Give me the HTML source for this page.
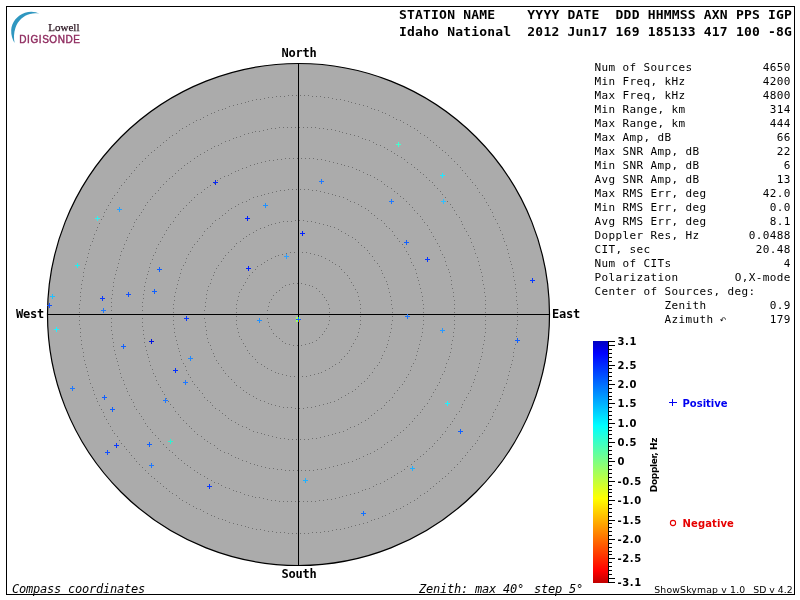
<!DOCTYPE html>
<html><head><meta charset="utf-8"><title>Skymap</title>
<style>
html,body{margin:0;padding:0;background:#fff;}
#root{position:relative;width:800px;height:600px;overflow:hidden;background:#fff;font-family:"DejaVu Sans Mono","Liberation Mono",monospace;color:#000;}
#frame{position:absolute;left:6px;top:6px;width:787px;height:587px;border:1px solid #000;}
.t{position:absolute;white-space:pre;line-height:1;}
.hd{font-weight:bold;font-size:13px;letter-spacing:0.195px;}
.st{font-size:11px;letter-spacing:0.378px;}
.sv{font-size:11px;letter-spacing:0.378px;text-align:right;width:120px;}
.cp{font-weight:bold;font-size:12px;letter-spacing:-0.224px;}
.it{font-style:italic;font-size:12px;letter-spacing:-0.224px;}
.cl{font-family:"DejaVu Sans","Liberation Sans",sans-serif;font-weight:bold;font-size:10px;}
.vs{font-family:"DejaVu Sans","Liberation Sans",sans-serif;font-size:9.3px;}
</style></head><body><div id="root">
<div id="frame"></div>

<svg width="800" height="600" viewBox="0 0 800 600" style="position:absolute;left:0;top:0">
<defs><linearGradient id="cb" x1="0" y1="0" x2="0" y2="1">
<stop offset="0.0000" stop-color="#0000c0"/>
<stop offset="0.0500" stop-color="#0000ff"/>
<stop offset="0.3500" stop-color="#00ffff"/>
<stop offset="0.5000" stop-color="#80ff80"/>
<stop offset="0.6500" stop-color="#ffff00"/>
<stop offset="0.9500" stop-color="#ff0000"/>
<stop offset="1.0000" stop-color="#c00000"/>
</linearGradient></defs>
<circle cx="298.5" cy="314.5" r="251" fill="#ababab" stroke="#000" stroke-width="1.2"/>
<path shape-rendering="crispEdges" d="M329 312h1v1h-1zM329 308h1v1h-1zM328 304h1v1h-1zM326 300h1v1h-1zM324 297h1v1h-1zM322 294h1v1h-1zM319 291h1v1h-1zM316 288h1v1h-1zM312 286h1v1h-1zM309 285h1v1h-1zM305 284h1v1h-1zM301 283h1v1h-1zM297 283h1v1h-1zM293 283h1v1h-1zM289 284h1v1h-1zM285 285h1v1h-1zM282 287h1v1h-1zM279 290h1v1h-1zM276 292h1v1h-1zM273 295h1v1h-1zM271 299h1v1h-1zM269 302h1v1h-1zM268 306h1v1h-1zM267 310h1v1h-1zM267 314h1v1h-1zM267 318h1v1h-1zM268 322h1v1h-1zM269 326h1v1h-1zM271 329h1v1h-1zM273 333h1v1h-1zM276 336h1v1h-1zM279 338h1v1h-1zM282 341h1v1h-1zM285 343h1v1h-1zM289 344h1v1h-1zM293 345h1v1h-1zM297 345h1v1h-1zM301 345h1v1h-1zM305 344h1v1h-1zM309 343h1v1h-1zM312 342h1v1h-1zM316 340h1v1h-1zM319 337h1v1h-1zM322 334h1v1h-1zM324 331h1v1h-1zM326 328h1v1h-1zM328 324h1v1h-1zM329 320h1v1h-1zM329 316h1v1h-1zM360 312h1v1h-1zM360 308h1v1h-1zM360 304h1v1h-1zM359 300h1v1h-1zM358 296h1v1h-1zM357 292h1v1h-1zM355 289h1v1h-1zM353 285h1v1h-1zM351 282h1v1h-1zM349 278h1v1h-1zM347 275h1v1h-1zM344 272h1v1h-1zM341 269h1v1h-1zM339 266h1v1h-1zM335 264h1v1h-1zM332 262h1v1h-1zM329 260h1v1h-1zM325 258h1v1h-1zM321 256h1v1h-1zM318 255h1v1h-1zM314 254h1v1h-1zM310 253h1v1h-1zM306 252h1v1h-1zM302 252h1v1h-1zM298 252h1v1h-1zM294 252h1v1h-1zM290 252h1v1h-1zM286 253h1v1h-1zM282 254h1v1h-1zM278 255h1v1h-1zM275 256h1v1h-1zM271 258h1v1h-1zM267 260h1v1h-1zM264 262h1v1h-1zM261 264h1v1h-1zM257 266h1v1h-1zM255 269h1v1h-1zM252 272h1v1h-1zM249 275h1v1h-1zM247 278h1v1h-1zM245 282h1v1h-1zM243 285h1v1h-1zM241 289h1v1h-1zM239 292h1v1h-1zM238 296h1v1h-1zM237 300h1v1h-1zM236 304h1v1h-1zM236 308h1v1h-1zM236 312h1v1h-1zM236 316h1v1h-1zM236 320h1v1h-1zM236 324h1v1h-1zM237 328h1v1h-1zM238 332h1v1h-1zM239 336h1v1h-1zM241 339h1v1h-1zM243 343h1v1h-1zM245 346h1v1h-1zM247 350h1v1h-1zM249 353h1v1h-1zM252 356h1v1h-1zM255 359h1v1h-1zM257 362h1v1h-1zM261 364h1v1h-1zM264 366h1v1h-1zM267 368h1v1h-1zM271 370h1v1h-1zM275 372h1v1h-1zM278 373h1v1h-1zM282 374h1v1h-1zM286 375h1v1h-1zM290 376h1v1h-1zM294 376h1v1h-1zM298 377h1v1h-1zM302 376h1v1h-1zM306 376h1v1h-1zM310 375h1v1h-1zM314 374h1v1h-1zM318 373h1v1h-1zM321 372h1v1h-1zM325 370h1v1h-1zM329 368h1v1h-1zM332 366h1v1h-1zM335 364h1v1h-1zM339 362h1v1h-1zM341 359h1v1h-1zM344 356h1v1h-1zM347 353h1v1h-1zM349 350h1v1h-1zM351 346h1v1h-1zM353 343h1v1h-1zM355 339h1v1h-1zM357 336h1v1h-1zM358 332h1v1h-1zM359 328h1v1h-1zM360 324h1v1h-1zM360 320h1v1h-1zM360 316h1v1h-1zM392 312h1v1h-1zM392 308h1v1h-1zM391 304h1v1h-1zM391 300h1v1h-1zM390 296h1v1h-1zM389 292h1v1h-1zM388 288h1v1h-1zM387 284h1v1h-1zM386 281h1v1h-1zM384 277h1v1h-1zM382 273h1v1h-1zM381 270h1v1h-1zM379 266h1v1h-1zM377 263h1v1h-1zM374 260h1v1h-1zM372 256h1v1h-1zM369 253h1v1h-1zM367 250h1v1h-1zM364 247h1v1h-1zM361 245h1v1h-1zM358 242h1v1h-1zM355 239h1v1h-1zM352 237h1v1h-1zM348 235h1v1h-1zM345 233h1v1h-1zM341 231h1v1h-1zM338 229h1v1h-1zM334 227h1v1h-1zM330 226h1v1h-1zM327 225h1v1h-1zM323 224h1v1h-1zM319 223h1v1h-1zM315 222h1v1h-1zM311 221h1v1h-1zM307 221h1v1h-1zM303 220h1v1h-1zM299 220h1v1h-1zM295 220h1v1h-1zM291 221h1v1h-1zM287 221h1v1h-1zM283 221h1v1h-1zM279 222h1v1h-1zM275 223h1v1h-1zM271 224h1v1h-1zM268 225h1v1h-1zM264 227h1v1h-1zM260 228h1v1h-1zM256 230h1v1h-1zM253 232h1v1h-1zM249 234h1v1h-1zM246 236h1v1h-1zM243 238h1v1h-1zM240 241h1v1h-1zM236 243h1v1h-1zM234 246h1v1h-1zM231 249h1v1h-1zM228 252h1v1h-1zM225 255h1v1h-1zM223 258h1v1h-1zM221 261h1v1h-1zM218 265h1v1h-1zM216 268h1v1h-1zM214 272h1v1h-1zM213 275h1v1h-1zM211 279h1v1h-1zM210 283h1v1h-1zM208 286h1v1h-1zM207 290h1v1h-1zM206 294h1v1h-1zM206 298h1v1h-1zM205 302h1v1h-1zM205 306h1v1h-1zM204 310h1v1h-1zM204 314h1v1h-1zM204 318h1v1h-1zM205 322h1v1h-1zM205 326h1v1h-1zM206 330h1v1h-1zM206 334h1v1h-1zM207 338h1v1h-1zM208 342h1v1h-1zM210 345h1v1h-1zM211 349h1v1h-1zM213 353h1v1h-1zM214 356h1v1h-1zM216 360h1v1h-1zM218 363h1v1h-1zM221 367h1v1h-1zM223 370h1v1h-1zM225 373h1v1h-1zM228 376h1v1h-1zM231 379h1v1h-1zM234 382h1v1h-1zM236 385h1v1h-1zM240 387h1v1h-1zM243 390h1v1h-1zM246 392h1v1h-1zM249 394h1v1h-1zM253 396h1v1h-1zM256 398h1v1h-1zM260 400h1v1h-1zM264 401h1v1h-1zM268 403h1v1h-1zM271 404h1v1h-1zM275 405h1v1h-1zM279 406h1v1h-1zM283 407h1v1h-1zM287 407h1v1h-1zM291 407h1v1h-1zM295 408h1v1h-1zM299 408h1v1h-1zM303 408h1v1h-1zM307 407h1v1h-1zM311 407h1v1h-1zM315 406h1v1h-1zM319 405h1v1h-1zM323 404h1v1h-1zM327 403h1v1h-1zM330 402h1v1h-1zM334 401h1v1h-1zM338 399h1v1h-1zM341 397h1v1h-1zM345 395h1v1h-1zM348 393h1v1h-1zM352 391h1v1h-1zM355 389h1v1h-1zM358 386h1v1h-1zM361 383h1v1h-1zM364 381h1v1h-1zM367 378h1v1h-1zM369 375h1v1h-1zM372 372h1v1h-1zM374 368h1v1h-1zM377 365h1v1h-1zM379 362h1v1h-1zM381 358h1v1h-1zM382 355h1v1h-1zM384 351h1v1h-1zM386 347h1v1h-1zM387 344h1v1h-1zM388 340h1v1h-1zM389 336h1v1h-1zM390 332h1v1h-1zM391 328h1v1h-1zM391 324h1v1h-1zM392 320h1v1h-1zM392 316h1v1h-1zM423 312h1v1h-1zM423 308h1v1h-1zM423 304h1v1h-1zM422 300h1v1h-1zM422 296h1v1h-1zM421 292h1v1h-1zM420 288h1v1h-1zM419 284h1v1h-1zM418 280h1v1h-1zM417 277h1v1h-1zM416 273h1v1h-1zM415 269h1v1h-1zM413 265h1v1h-1zM411 262h1v1h-1zM410 258h1v1h-1zM408 254h1v1h-1zM406 251h1v1h-1zM404 247h1v1h-1zM402 244h1v1h-1zM399 241h1v1h-1zM397 238h1v1h-1zM394 235h1v1h-1zM392 231h1v1h-1zM389 228h1v1h-1zM386 226h1v1h-1zM384 223h1v1h-1zM381 220h1v1h-1zM377 218h1v1h-1zM374 215h1v1h-1zM371 213h1v1h-1zM368 210h1v1h-1zM365 208h1v1h-1zM361 206h1v1h-1zM358 204h1v1h-1zM354 202h1v1h-1zM350 201h1v1h-1zM347 199h1v1h-1zM343 197h1v1h-1zM339 196h1v1h-1zM335 195h1v1h-1zM332 194h1v1h-1zM328 193h1v1h-1zM324 192h1v1h-1zM320 191h1v1h-1zM316 190h1v1h-1zM312 190h1v1h-1zM308 189h1v1h-1zM304 189h1v1h-1zM300 189h1v1h-1zM296 189h1v1h-1zM292 189h1v1h-1zM288 189h1v1h-1zM284 190h1v1h-1zM280 190h1v1h-1zM276 191h1v1h-1zM272 192h1v1h-1zM268 193h1v1h-1zM264 194h1v1h-1zM261 195h1v1h-1zM257 196h1v1h-1zM253 197h1v1h-1zM249 199h1v1h-1zM246 201h1v1h-1zM242 202h1v1h-1zM238 204h1v1h-1zM235 206h1v1h-1zM231 208h1v1h-1zM228 210h1v1h-1zM225 213h1v1h-1zM222 215h1v1h-1zM219 218h1v1h-1zM215 220h1v1h-1zM212 223h1v1h-1zM210 226h1v1h-1zM207 228h1v1h-1zM204 231h1v1h-1zM202 235h1v1h-1zM199 238h1v1h-1zM197 241h1v1h-1zM194 244h1v1h-1zM192 247h1v1h-1zM190 251h1v1h-1zM188 254h1v1h-1zM186 258h1v1h-1zM185 262h1v1h-1zM183 265h1v1h-1zM181 269h1v1h-1zM180 273h1v1h-1zM179 277h1v1h-1zM178 280h1v1h-1zM177 284h1v1h-1zM176 288h1v1h-1zM175 292h1v1h-1zM174 296h1v1h-1zM174 300h1v1h-1zM173 304h1v1h-1zM173 308h1v1h-1zM173 312h1v1h-1zM173 316h1v1h-1zM173 320h1v1h-1zM173 324h1v1h-1zM174 328h1v1h-1zM174 332h1v1h-1zM175 336h1v1h-1zM176 340h1v1h-1zM177 344h1v1h-1zM178 348h1v1h-1zM179 351h1v1h-1zM180 355h1v1h-1zM181 359h1v1h-1zM183 363h1v1h-1zM185 366h1v1h-1zM186 370h1v1h-1zM188 374h1v1h-1zM190 377h1v1h-1zM192 381h1v1h-1zM194 384h1v1h-1zM197 387h1v1h-1zM199 390h1v1h-1zM202 393h1v1h-1zM204 397h1v1h-1zM207 400h1v1h-1zM210 402h1v1h-1zM212 405h1v1h-1zM215 408h1v1h-1zM219 410h1v1h-1zM222 413h1v1h-1zM225 415h1v1h-1zM228 418h1v1h-1zM231 420h1v1h-1zM235 422h1v1h-1zM238 424h1v1h-1zM242 426h1v1h-1zM246 427h1v1h-1zM249 429h1v1h-1zM253 431h1v1h-1zM257 432h1v1h-1zM261 433h1v1h-1zM264 434h1v1h-1zM268 435h1v1h-1zM272 436h1v1h-1zM276 437h1v1h-1zM280 438h1v1h-1zM284 438h1v1h-1zM288 439h1v1h-1zM292 439h1v1h-1zM296 439h1v1h-1zM300 439h1v1h-1zM304 439h1v1h-1zM308 439h1v1h-1zM312 438h1v1h-1zM316 438h1v1h-1zM320 437h1v1h-1zM324 436h1v1h-1zM328 435h1v1h-1zM332 434h1v1h-1zM335 433h1v1h-1zM339 432h1v1h-1zM343 431h1v1h-1zM347 429h1v1h-1zM350 427h1v1h-1zM354 426h1v1h-1zM358 424h1v1h-1zM361 422h1v1h-1zM365 420h1v1h-1zM368 418h1v1h-1zM371 415h1v1h-1zM374 413h1v1h-1zM377 410h1v1h-1zM381 408h1v1h-1zM384 405h1v1h-1zM386 402h1v1h-1zM389 400h1v1h-1zM392 397h1v1h-1zM394 393h1v1h-1zM397 390h1v1h-1zM399 387h1v1h-1zM402 384h1v1h-1zM404 381h1v1h-1zM406 377h1v1h-1zM408 374h1v1h-1zM410 370h1v1h-1zM411 366h1v1h-1zM413 363h1v1h-1zM415 359h1v1h-1zM416 355h1v1h-1zM417 351h1v1h-1zM418 348h1v1h-1zM419 344h1v1h-1zM420 340h1v1h-1zM421 336h1v1h-1zM422 332h1v1h-1zM422 328h1v1h-1zM423 324h1v1h-1zM423 320h1v1h-1zM423 316h1v1h-1zM454 312h1v1h-1zM454 308h1v1h-1zM454 304h1v1h-1zM454 300h1v1h-1zM453 296h1v1h-1zM453 292h1v1h-1zM452 288h1v1h-1zM451 284h1v1h-1zM451 280h1v1h-1zM450 276h1v1h-1zM449 272h1v1h-1zM448 269h1v1h-1zM446 265h1v1h-1zM445 261h1v1h-1zM444 257h1v1h-1zM442 254h1v1h-1zM440 250h1v1h-1zM439 246h1v1h-1zM437 243h1v1h-1zM435 239h1v1h-1zM433 236h1v1h-1zM431 232h1v1h-1zM429 229h1v1h-1zM427 225h1v1h-1zM424 222h1v1h-1zM422 219h1v1h-1zM420 216h1v1h-1zM417 213h1v1h-1zM414 210h1v1h-1zM412 207h1v1h-1zM409 204h1v1h-1zM406 201h1v1h-1zM403 198h1v1h-1zM400 196h1v1h-1zM397 193h1v1h-1zM394 191h1v1h-1zM391 188h1v1h-1zM387 186h1v1h-1zM384 184h1v1h-1zM381 181h1v1h-1zM377 179h1v1h-1zM374 177h1v1h-1zM370 175h1v1h-1zM367 174h1v1h-1zM363 172h1v1h-1zM359 170h1v1h-1zM356 169h1v1h-1zM352 167h1v1h-1zM348 166h1v1h-1zM344 165h1v1h-1zM341 164h1v1h-1zM337 163h1v1h-1zM333 162h1v1h-1zM329 161h1v1h-1zM325 160h1v1h-1zM321 159h1v1h-1zM317 159h1v1h-1zM313 158h1v1h-1zM309 158h1v1h-1zM305 158h1v1h-1zM301 158h1v1h-1zM297 158h1v1h-1zM293 158h1v1h-1zM289 158h1v1h-1zM285 158h1v1h-1zM281 159h1v1h-1zM277 159h1v1h-1zM273 160h1v1h-1zM269 160h1v1h-1zM265 161h1v1h-1zM261 162h1v1h-1zM257 163h1v1h-1zM254 164h1v1h-1zM250 165h1v1h-1zM246 167h1v1h-1zM242 168h1v1h-1zM238 170h1v1h-1zM235 171h1v1h-1zM231 173h1v1h-1zM228 175h1v1h-1zM224 176h1v1h-1zM220 178h1v1h-1zM217 180h1v1h-1zM214 183h1v1h-1zM210 185h1v1h-1zM207 187h1v1h-1zM204 189h1v1h-1zM201 192h1v1h-1zM197 194h1v1h-1zM194 197h1v1h-1zM191 200h1v1h-1zM189 202h1v1h-1zM186 205h1v1h-1zM183 208h1v1h-1zM180 211h1v1h-1zM178 214h1v1h-1zM175 217h1v1h-1zM173 221h1v1h-1zM170 224h1v1h-1zM168 227h1v1h-1zM166 230h1v1h-1zM164 234h1v1h-1zM162 237h1v1h-1zM160 241h1v1h-1zM158 244h1v1h-1zM156 248h1v1h-1zM155 252h1v1h-1zM153 255h1v1h-1zM152 259h1v1h-1zM150 263h1v1h-1zM149 267h1v1h-1zM148 271h1v1h-1zM147 274h1v1h-1zM146 278h1v1h-1zM145 282h1v1h-1zM144 286h1v1h-1zM144 290h1v1h-1zM143 294h1v1h-1zM143 298h1v1h-1zM142 302h1v1h-1zM142 306h1v1h-1zM142 310h1v1h-1zM142 314h1v1h-1zM142 318h1v1h-1zM142 322h1v1h-1zM142 326h1v1h-1zM143 330h1v1h-1zM143 334h1v1h-1zM144 338h1v1h-1zM144 342h1v1h-1zM145 346h1v1h-1zM146 350h1v1h-1zM147 354h1v1h-1zM148 357h1v1h-1zM149 361h1v1h-1zM150 365h1v1h-1zM152 369h1v1h-1zM153 373h1v1h-1zM155 376h1v1h-1zM156 380h1v1h-1zM158 384h1v1h-1zM160 387h1v1h-1zM162 391h1v1h-1zM164 394h1v1h-1zM166 398h1v1h-1zM168 401h1v1h-1zM170 404h1v1h-1zM173 407h1v1h-1zM175 411h1v1h-1zM178 414h1v1h-1zM180 417h1v1h-1zM183 420h1v1h-1zM186 423h1v1h-1zM189 426h1v1h-1zM191 428h1v1h-1zM194 431h1v1h-1zM197 434h1v1h-1zM201 436h1v1h-1zM204 439h1v1h-1zM207 441h1v1h-1zM210 443h1v1h-1zM214 445h1v1h-1zM217 448h1v1h-1zM220 450h1v1h-1zM224 452h1v1h-1zM228 453h1v1h-1zM231 455h1v1h-1zM235 457h1v1h-1zM238 458h1v1h-1zM242 460h1v1h-1zM246 461h1v1h-1zM250 463h1v1h-1zM254 464h1v1h-1zM257 465h1v1h-1zM261 466h1v1h-1zM265 467h1v1h-1zM269 468h1v1h-1zM273 468h1v1h-1zM277 469h1v1h-1zM281 469h1v1h-1zM285 470h1v1h-1zM289 470h1v1h-1zM293 470h1v1h-1zM297 470h1v1h-1zM301 470h1v1h-1zM305 470h1v1h-1zM309 470h1v1h-1zM313 470h1v1h-1zM317 469h1v1h-1zM321 469h1v1h-1zM325 468h1v1h-1zM329 467h1v1h-1zM333 466h1v1h-1zM337 465h1v1h-1zM341 464h1v1h-1zM344 463h1v1h-1zM348 462h1v1h-1zM352 461h1v1h-1zM356 459h1v1h-1zM359 458h1v1h-1zM363 456h1v1h-1zM367 454h1v1h-1zM370 453h1v1h-1zM374 451h1v1h-1zM377 449h1v1h-1zM381 447h1v1h-1zM384 444h1v1h-1zM387 442h1v1h-1zM391 440h1v1h-1zM394 437h1v1h-1zM397 435h1v1h-1zM400 432h1v1h-1zM403 430h1v1h-1zM406 427h1v1h-1zM409 424h1v1h-1zM412 421h1v1h-1zM414 418h1v1h-1zM417 415h1v1h-1zM420 412h1v1h-1zM422 409h1v1h-1zM424 406h1v1h-1zM427 403h1v1h-1zM429 399h1v1h-1zM431 396h1v1h-1zM433 392h1v1h-1zM435 389h1v1h-1zM437 385h1v1h-1zM439 382h1v1h-1zM440 378h1v1h-1zM442 374h1v1h-1zM444 371h1v1h-1zM445 367h1v1h-1zM446 363h1v1h-1zM448 359h1v1h-1zM449 356h1v1h-1zM450 352h1v1h-1zM451 348h1v1h-1zM451 344h1v1h-1zM452 340h1v1h-1zM453 336h1v1h-1zM453 332h1v1h-1zM454 328h1v1h-1zM454 324h1v1h-1zM454 320h1v1h-1zM454 316h1v1h-1zM485 312h1v1h-1zM485 308h1v1h-1zM485 304h1v1h-1zM485 300h1v1h-1zM485 296h1v1h-1zM484 292h1v1h-1zM484 288h1v1h-1zM483 284h1v1h-1zM482 280h1v1h-1zM482 276h1v1h-1zM481 272h1v1h-1zM480 269h1v1h-1zM479 265h1v1h-1zM478 261h1v1h-1zM477 257h1v1h-1zM475 253h1v1h-1zM474 249h1v1h-1zM473 246h1v1h-1zM471 242h1v1h-1zM470 238h1v1h-1zM468 235h1v1h-1zM466 231h1v1h-1zM464 228h1v1h-1zM462 224h1v1h-1zM461 221h1v1h-1zM459 217h1v1h-1zM456 214h1v1h-1zM454 210h1v1h-1zM452 207h1v1h-1zM450 204h1v1h-1zM447 201h1v1h-1zM445 197h1v1h-1zM442 194h1v1h-1zM440 191h1v1h-1zM437 188h1v1h-1zM434 185h1v1h-1zM432 182h1v1h-1zM429 180h1v1h-1zM426 177h1v1h-1zM423 174h1v1h-1zM420 172h1v1h-1zM417 169h1v1h-1zM414 167h1v1h-1zM411 164h1v1h-1zM407 162h1v1h-1zM404 159h1v1h-1zM401 157h1v1h-1zM397 155h1v1h-1zM394 153h1v1h-1zM391 151h1v1h-1zM387 149h1v1h-1zM384 147h1v1h-1zM380 145h1v1h-1zM376 144h1v1h-1zM373 142h1v1h-1zM369 140h1v1h-1zM365 139h1v1h-1zM362 138h1v1h-1zM358 136h1v1h-1zM354 135h1v1h-1zM350 134h1v1h-1zM346 133h1v1h-1zM342 132h1v1h-1zM339 131h1v1h-1zM335 130h1v1h-1zM331 129h1v1h-1zM327 129h1v1h-1zM323 128h1v1h-1zM319 128h1v1h-1zM315 127h1v1h-1zM311 127h1v1h-1zM307 127h1v1h-1zM303 127h1v1h-1zM299 127h1v1h-1zM295 127h1v1h-1zM291 127h1v1h-1zM287 127h1v1h-1zM283 127h1v1h-1zM279 127h1v1h-1zM275 128h1v1h-1zM271 128h1v1h-1zM267 129h1v1h-1zM263 130h1v1h-1zM259 131h1v1h-1zM255 131h1v1h-1zM252 132h1v1h-1zM248 133h1v1h-1zM244 134h1v1h-1zM240 136h1v1h-1zM236 137h1v1h-1zM233 138h1v1h-1zM229 140h1v1h-1zM225 141h1v1h-1zM221 143h1v1h-1zM218 145h1v1h-1zM214 146h1v1h-1zM211 148h1v1h-1zM207 150h1v1h-1zM204 152h1v1h-1zM200 154h1v1h-1zM197 156h1v1h-1zM194 158h1v1h-1zM190 161h1v1h-1zM187 163h1v1h-1zM184 165h1v1h-1zM181 168h1v1h-1zM178 170h1v1h-1zM175 173h1v1h-1zM172 176h1v1h-1zM169 178h1v1h-1zM166 181h1v1h-1zM163 184h1v1h-1zM160 187h1v1h-1zM158 190h1v1h-1zM155 193h1v1h-1zM152 196h1v1h-1zM150 199h1v1h-1zM147 202h1v1h-1zM145 205h1v1h-1zM143 209h1v1h-1zM141 212h1v1h-1zM139 215h1v1h-1zM136 219h1v1h-1zM134 222h1v1h-1zM133 226h1v1h-1zM131 229h1v1h-1zM129 233h1v1h-1zM127 237h1v1h-1zM126 240h1v1h-1zM124 244h1v1h-1zM123 248h1v1h-1zM121 251h1v1h-1zM120 255h1v1h-1zM119 259h1v1h-1zM118 263h1v1h-1zM117 267h1v1h-1zM116 270h1v1h-1zM115 274h1v1h-1zM114 278h1v1h-1zM113 282h1v1h-1zM113 286h1v1h-1zM112 290h1v1h-1zM112 294h1v1h-1zM111 298h1v1h-1zM111 302h1v1h-1zM111 306h1v1h-1zM111 310h1v1h-1zM111 314h1v1h-1zM111 318h1v1h-1zM111 322h1v1h-1zM111 326h1v1h-1zM111 330h1v1h-1zM112 334h1v1h-1zM112 338h1v1h-1zM113 342h1v1h-1zM113 346h1v1h-1zM114 350h1v1h-1zM115 354h1v1h-1zM116 358h1v1h-1zM117 361h1v1h-1zM118 365h1v1h-1zM119 369h1v1h-1zM120 373h1v1h-1zM121 377h1v1h-1zM123 380h1v1h-1zM124 384h1v1h-1zM126 388h1v1h-1zM127 391h1v1h-1zM129 395h1v1h-1zM131 399h1v1h-1zM133 402h1v1h-1zM134 406h1v1h-1zM136 409h1v1h-1zM139 413h1v1h-1zM141 416h1v1h-1zM143 419h1v1h-1zM145 423h1v1h-1zM147 426h1v1h-1zM150 429h1v1h-1zM152 432h1v1h-1zM155 435h1v1h-1zM158 438h1v1h-1zM160 441h1v1h-1zM163 444h1v1h-1zM166 447h1v1h-1zM169 450h1v1h-1zM172 452h1v1h-1zM175 455h1v1h-1zM178 458h1v1h-1zM181 460h1v1h-1zM184 463h1v1h-1zM187 465h1v1h-1zM190 467h1v1h-1zM194 470h1v1h-1zM197 472h1v1h-1zM200 474h1v1h-1zM204 476h1v1h-1zM207 478h1v1h-1zM211 480h1v1h-1zM214 482h1v1h-1zM218 483h1v1h-1zM221 485h1v1h-1zM225 487h1v1h-1zM229 488h1v1h-1zM233 490h1v1h-1zM236 491h1v1h-1zM240 492h1v1h-1zM244 494h1v1h-1zM248 495h1v1h-1zM252 496h1v1h-1zM255 497h1v1h-1zM259 497h1v1h-1zM263 498h1v1h-1zM267 499h1v1h-1zM271 500h1v1h-1zM275 500h1v1h-1zM279 501h1v1h-1zM283 501h1v1h-1zM287 501h1v1h-1zM291 501h1v1h-1zM295 501h1v1h-1zM299 501h1v1h-1zM303 501h1v1h-1zM307 501h1v1h-1zM311 501h1v1h-1zM315 501h1v1h-1zM319 500h1v1h-1zM323 500h1v1h-1zM327 499h1v1h-1zM331 499h1v1h-1zM335 498h1v1h-1zM339 497h1v1h-1zM342 496h1v1h-1zM346 495h1v1h-1zM350 494h1v1h-1zM354 493h1v1h-1zM358 492h1v1h-1zM362 490h1v1h-1zM365 489h1v1h-1zM369 488h1v1h-1zM373 486h1v1h-1zM376 484h1v1h-1zM380 483h1v1h-1zM384 481h1v1h-1zM387 479h1v1h-1zM391 477h1v1h-1zM394 475h1v1h-1zM397 473h1v1h-1zM401 471h1v1h-1zM404 469h1v1h-1zM407 466h1v1h-1zM411 464h1v1h-1zM414 461h1v1h-1zM417 459h1v1h-1zM420 456h1v1h-1zM423 454h1v1h-1zM426 451h1v1h-1zM429 448h1v1h-1zM432 446h1v1h-1zM434 443h1v1h-1zM437 440h1v1h-1zM440 437h1v1h-1zM442 434h1v1h-1zM445 431h1v1h-1zM447 427h1v1h-1zM450 424h1v1h-1zM452 421h1v1h-1zM454 418h1v1h-1zM456 414h1v1h-1zM459 411h1v1h-1zM461 407h1v1h-1zM462 404h1v1h-1zM464 400h1v1h-1zM466 397h1v1h-1zM468 393h1v1h-1zM470 390h1v1h-1zM471 386h1v1h-1zM473 382h1v1h-1zM474 379h1v1h-1zM475 375h1v1h-1zM477 371h1v1h-1zM478 367h1v1h-1zM479 363h1v1h-1zM480 359h1v1h-1zM481 356h1v1h-1zM482 352h1v1h-1zM482 348h1v1h-1zM483 344h1v1h-1zM484 340h1v1h-1zM484 336h1v1h-1zM485 332h1v1h-1zM485 328h1v1h-1zM485 324h1v1h-1zM485 320h1v1h-1zM485 316h1v1h-1zM517 312h1v1h-1zM517 308h1v1h-1zM517 304h1v1h-1zM516 300h1v1h-1zM516 296h1v1h-1zM516 292h1v1h-1zM515 288h1v1h-1zM515 284h1v1h-1zM514 280h1v1h-1zM513 276h1v1h-1zM513 272h1v1h-1zM512 268h1v1h-1zM511 264h1v1h-1zM510 261h1v1h-1zM509 257h1v1h-1zM508 253h1v1h-1zM507 249h1v1h-1zM506 245h1v1h-1zM504 241h1v1h-1zM503 238h1v1h-1zM502 234h1v1h-1zM500 230h1v1h-1zM499 227h1v1h-1zM497 223h1v1h-1zM495 219h1v1h-1zM493 216h1v1h-1zM492 212h1v1h-1zM490 209h1v1h-1zM488 205h1v1h-1zM486 202h1v1h-1zM484 198h1v1h-1zM482 195h1v1h-1zM479 192h1v1h-1zM477 188h1v1h-1zM475 185h1v1h-1zM472 182h1v1h-1zM470 179h1v1h-1zM467 176h1v1h-1zM465 173h1v1h-1zM462 170h1v1h-1zM460 167h1v1h-1zM457 164h1v1h-1zM454 161h1v1h-1zM451 158h1v1h-1zM448 155h1v1h-1zM445 152h1v1h-1zM442 150h1v1h-1zM439 147h1v1h-1zM436 145h1v1h-1zM433 142h1v1h-1zM430 140h1v1h-1zM427 137h1v1h-1zM424 135h1v1h-1zM420 133h1v1h-1zM417 130h1v1h-1zM414 128h1v1h-1zM410 126h1v1h-1zM407 124h1v1h-1zM403 122h1v1h-1zM400 120h1v1h-1zM396 119h1v1h-1zM393 117h1v1h-1zM389 115h1v1h-1zM385 113h1v1h-1zM382 112h1v1h-1zM378 110h1v1h-1zM374 109h1v1h-1zM371 108h1v1h-1zM367 106h1v1h-1zM363 105h1v1h-1zM359 104h1v1h-1zM355 103h1v1h-1zM351 102h1v1h-1zM348 101h1v1h-1zM344 100h1v1h-1zM340 99h1v1h-1zM336 99h1v1h-1zM332 98h1v1h-1zM328 97h1v1h-1zM324 97h1v1h-1zM320 96h1v1h-1zM316 96h1v1h-1zM312 96h1v1h-1zM308 95h1v1h-1zM304 95h1v1h-1zM300 95h1v1h-1zM296 95h1v1h-1zM292 95h1v1h-1zM288 95h1v1h-1zM284 96h1v1h-1zM280 96h1v1h-1zM276 96h1v1h-1zM272 97h1v1h-1zM268 97h1v1h-1zM264 98h1v1h-1zM260 99h1v1h-1zM256 99h1v1h-1zM252 100h1v1h-1zM248 101h1v1h-1zM245 102h1v1h-1zM241 103h1v1h-1zM237 104h1v1h-1zM233 105h1v1h-1zM229 106h1v1h-1zM225 108h1v1h-1zM222 109h1v1h-1zM218 110h1v1h-1zM214 112h1v1h-1zM211 113h1v1h-1zM207 115h1v1h-1zM203 117h1v1h-1zM200 119h1v1h-1zM196 120h1v1h-1zM193 122h1v1h-1zM189 124h1v1h-1zM186 126h1v1h-1zM182 128h1v1h-1zM179 130h1v1h-1zM176 133h1v1h-1zM172 135h1v1h-1zM169 137h1v1h-1zM166 140h1v1h-1zM163 142h1v1h-1zM160 145h1v1h-1zM157 147h1v1h-1zM154 150h1v1h-1zM151 152h1v1h-1zM148 155h1v1h-1zM145 158h1v1h-1zM142 161h1v1h-1zM139 164h1v1h-1zM136 167h1v1h-1zM134 170h1v1h-1zM131 173h1v1h-1zM129 176h1v1h-1zM126 179h1v1h-1zM124 182h1v1h-1zM121 185h1v1h-1zM119 188h1v1h-1zM117 192h1v1h-1zM114 195h1v1h-1zM112 198h1v1h-1zM110 202h1v1h-1zM108 205h1v1h-1zM106 209h1v1h-1zM104 212h1v1h-1zM103 216h1v1h-1zM101 219h1v1h-1zM99 223h1v1h-1zM97 227h1v1h-1zM96 230h1v1h-1zM94 234h1v1h-1zM93 238h1v1h-1zM92 241h1v1h-1zM90 245h1v1h-1zM89 249h1v1h-1zM88 253h1v1h-1zM87 257h1v1h-1zM86 261h1v1h-1zM85 264h1v1h-1zM84 268h1v1h-1zM83 272h1v1h-1zM83 276h1v1h-1zM82 280h1v1h-1zM81 284h1v1h-1zM81 288h1v1h-1zM80 292h1v1h-1zM80 296h1v1h-1zM80 300h1v1h-1zM79 304h1v1h-1zM79 308h1v1h-1zM79 312h1v1h-1zM79 316h1v1h-1zM79 320h1v1h-1zM79 324h1v1h-1zM80 328h1v1h-1zM80 332h1v1h-1zM80 336h1v1h-1zM81 340h1v1h-1zM81 344h1v1h-1zM82 348h1v1h-1zM83 352h1v1h-1zM83 356h1v1h-1zM84 360h1v1h-1zM85 364h1v1h-1zM86 367h1v1h-1zM87 371h1v1h-1zM88 375h1v1h-1zM89 379h1v1h-1zM90 383h1v1h-1zM92 387h1v1h-1zM93 390h1v1h-1zM94 394h1v1h-1zM96 398h1v1h-1zM97 401h1v1h-1zM99 405h1v1h-1zM101 409h1v1h-1zM103 412h1v1h-1zM104 416h1v1h-1zM106 419h1v1h-1zM108 423h1v1h-1zM110 426h1v1h-1zM112 430h1v1h-1zM114 433h1v1h-1zM117 436h1v1h-1zM119 440h1v1h-1zM121 443h1v1h-1zM124 446h1v1h-1zM126 449h1v1h-1zM129 452h1v1h-1zM131 455h1v1h-1zM134 458h1v1h-1zM136 461h1v1h-1zM139 464h1v1h-1zM142 467h1v1h-1zM145 470h1v1h-1zM148 473h1v1h-1zM151 476h1v1h-1zM154 478h1v1h-1zM157 481h1v1h-1zM160 483h1v1h-1zM163 486h1v1h-1zM166 488h1v1h-1zM169 491h1v1h-1zM172 493h1v1h-1zM176 495h1v1h-1zM179 498h1v1h-1zM182 500h1v1h-1zM186 502h1v1h-1zM189 504h1v1h-1zM193 506h1v1h-1zM196 508h1v1h-1zM200 509h1v1h-1zM203 511h1v1h-1zM207 513h1v1h-1zM211 515h1v1h-1zM214 516h1v1h-1zM218 518h1v1h-1zM222 519h1v1h-1zM225 520h1v1h-1zM229 522h1v1h-1zM233 523h1v1h-1zM237 524h1v1h-1zM241 525h1v1h-1zM245 526h1v1h-1zM248 527h1v1h-1zM252 528h1v1h-1zM256 529h1v1h-1zM260 529h1v1h-1zM264 530h1v1h-1zM268 531h1v1h-1zM272 531h1v1h-1zM276 532h1v1h-1zM280 532h1v1h-1zM284 532h1v1h-1zM288 533h1v1h-1zM292 533h1v1h-1zM296 533h1v1h-1zM300 533h1v1h-1zM304 533h1v1h-1zM308 533h1v1h-1zM312 532h1v1h-1zM316 532h1v1h-1zM320 532h1v1h-1zM324 531h1v1h-1zM328 531h1v1h-1zM332 530h1v1h-1zM336 529h1v1h-1zM340 529h1v1h-1zM344 528h1v1h-1zM348 527h1v1h-1zM351 526h1v1h-1zM355 525h1v1h-1zM359 524h1v1h-1zM363 523h1v1h-1zM367 522h1v1h-1zM371 520h1v1h-1zM374 519h1v1h-1zM378 518h1v1h-1zM382 516h1v1h-1zM385 515h1v1h-1zM389 513h1v1h-1zM393 511h1v1h-1zM396 509h1v1h-1zM400 508h1v1h-1zM403 506h1v1h-1zM407 504h1v1h-1zM410 502h1v1h-1zM414 500h1v1h-1zM417 498h1v1h-1zM420 495h1v1h-1zM424 493h1v1h-1zM427 491h1v1h-1zM430 488h1v1h-1zM433 486h1v1h-1zM436 483h1v1h-1zM439 481h1v1h-1zM442 478h1v1h-1zM445 476h1v1h-1zM448 473h1v1h-1zM451 470h1v1h-1zM454 467h1v1h-1zM457 464h1v1h-1zM460 461h1v1h-1zM462 458h1v1h-1zM465 455h1v1h-1zM467 452h1v1h-1zM470 449h1v1h-1zM472 446h1v1h-1zM475 443h1v1h-1zM477 440h1v1h-1zM479 436h1v1h-1zM482 433h1v1h-1zM484 430h1v1h-1zM486 426h1v1h-1zM488 423h1v1h-1zM490 419h1v1h-1zM492 416h1v1h-1zM493 412h1v1h-1zM495 409h1v1h-1zM497 405h1v1h-1zM499 401h1v1h-1zM500 398h1v1h-1zM502 394h1v1h-1zM503 390h1v1h-1zM504 387h1v1h-1zM506 383h1v1h-1zM507 379h1v1h-1zM508 375h1v1h-1zM509 371h1v1h-1zM510 367h1v1h-1zM511 364h1v1h-1zM512 360h1v1h-1zM513 356h1v1h-1zM513 352h1v1h-1zM514 348h1v1h-1zM515 344h1v1h-1zM515 340h1v1h-1zM516 336h1v1h-1zM516 332h1v1h-1zM516 328h1v1h-1zM517 324h1v1h-1zM517 320h1v1h-1zM517 316h1v1h-1z" fill="#707070"/>
<g shape-rendering="crispEdges">
<rect x="298" y="63" width="1" height="503" fill="#000"/>
<rect x="47" y="314" width="503" height="1" fill="#000"/>
<rect x="296" y="317" width="4" height="5" fill="#a8ff50"/>
<rect x="299" y="320" width="1" height="2" fill="#ff9000"/>
<path d="M296 319h5v1h-5zM298 317h1v5h-1z" fill="#1060ff"/>
<path d="M213 182h5v1h-5zM215 180h1v5h-1z" fill="#0828f0"/>
<path d="M117 209h5v1h-5zM119 207h1v5h-1z" fill="#28a0ff"/>
<path d="M95 218h5v1h-5zM97 216h1v5h-1z" fill="#30f0f0"/>
<path d="M75 265h5v1h-5zM77 263h1v5h-1z" fill="#20f0f0"/>
<path d="M157 269h5v1h-5zM159 267h1v5h-1z" fill="#1060ff"/>
<path d="M396 144h5v1h-5zM398 142h1v5h-1z" fill="#40ffd0"/>
<path d="M319 181h5v1h-5zM321 179h1v5h-1z" fill="#1e78ff"/>
<path d="M389 201h5v1h-5zM391 199h1v5h-1z" fill="#1e78ff"/>
<path d="M263 205h5v1h-5zM265 203h1v5h-1z" fill="#2090ff"/>
<path d="M440 175h5v1h-5zM442 173h1v5h-1z" fill="#20e8ff"/>
<path d="M441 201h5v1h-5zM443 199h1v5h-1z" fill="#30c0ff"/>
<path d="M404 242h5v1h-5zM406 240h1v5h-1z" fill="#1060ff"/>
<path d="M425 259h5v1h-5zM427 257h1v5h-1z" fill="#0838ff"/>
<path d="M530 280h5v1h-5zM532 278h1v5h-1z" fill="#0838ff"/>
<path d="M405 316h5v1h-5zM407 314h1v5h-1z" fill="#1e78ff"/>
<path d="M440 330h5v1h-5zM442 328h1v5h-1z" fill="#2898ff"/>
<path d="M515 340h5v1h-5zM517 338h1v5h-1z" fill="#1060ff"/>
<path d="M445 403h5v1h-5zM447 401h1v5h-1z" fill="#20f0ff"/>
<path d="M458 431h5v1h-5zM460 429h1v5h-1z" fill="#1060ff"/>
<path d="M410 468h5v1h-5zM412 466h1v5h-1z" fill="#20b0ff"/>
<path d="M303 480h5v1h-5zM305 478h1v5h-1z" fill="#20b0ff"/>
<path d="M361 513h5v1h-5zM363 511h1v5h-1z" fill="#1070ff"/>
<path d="M245 218h5v1h-5zM247 216h1v5h-1z" fill="#0020ff"/>
<path d="M300 233h5v1h-5zM302 231h1v5h-1z" fill="#0020ff"/>
<path d="M284 256h5v1h-5zM286 254h1v5h-1z" fill="#30a0ff"/>
<path d="M246 268h5v1h-5zM248 266h1v5h-1z" fill="#0020ff"/>
<path d="M257 320h5v1h-5zM259 318h1v5h-1z" fill="#2090ff"/>
<path d="M50 296h5v1h-5zM52 294h1v5h-1z" fill="#20c0ff"/>
<path d="M47 305h5v1h-5zM49 303h1v5h-1z" fill="#1050ff"/>
<path d="M100 298h5v1h-5zM102 296h1v5h-1z" fill="#0838ff"/>
<path d="M126 294h5v1h-5zM128 292h1v5h-1z" fill="#1050ff"/>
<path d="M152 291h5v1h-5zM154 289h1v5h-1z" fill="#1060ff"/>
<path d="M101 310h5v1h-5zM103 308h1v5h-1z" fill="#1e78ff"/>
<path d="M184 318h5v1h-5zM186 316h1v5h-1z" fill="#0838ff"/>
<path d="M54 329h5v1h-5zM56 327h1v5h-1z" fill="#20f0ff"/>
<path d="M149 341h5v1h-5zM151 339h1v5h-1z" fill="#0010e0"/>
<path d="M121 346h5v1h-5zM123 344h1v5h-1z" fill="#1060ff"/>
<path d="M188 358h5v1h-5zM190 356h1v5h-1z" fill="#2088ff"/>
<path d="M173 370h5v1h-5zM175 368h1v5h-1z" fill="#0030ff"/>
<path d="M183 382h5v1h-5zM185 380h1v5h-1z" fill="#1e78ff"/>
<path d="M70 388h5v1h-5zM72 386h1v5h-1z" fill="#1e78ff"/>
<path d="M102 397h5v1h-5zM104 395h1v5h-1z" fill="#1060ff"/>
<path d="M163 400h5v1h-5zM165 398h1v5h-1z" fill="#1e78ff"/>
<path d="M110 409h5v1h-5zM112 407h1v5h-1z" fill="#1060ff"/>
<path d="M168 441h5v1h-5zM170 439h1v5h-1z" fill="#30f0d0"/>
<path d="M147 444h5v1h-5zM149 442h1v5h-1z" fill="#1060ff"/>
<path d="M114 445h5v1h-5zM116 443h1v5h-1z" fill="#0838ff"/>
<path d="M105 452h5v1h-5zM107 450h1v5h-1z" fill="#1050ff"/>
<path d="M149 465h5v1h-5zM151 463h1v5h-1z" fill="#1e78ff"/>
<path d="M207 486h5v1h-5zM209 484h1v5h-1z" fill="#0838ff"/>
<rect x="593" y="341" width="15" height="242" fill="url(#cb)"/>
<rect x="608" y="341" width="1" height="242" fill="#000"/>
<path d="M608 578h7v1h-7zM608 574h4v1h-4zM608 570h4v1h-4zM608 566h4v1h-4zM608 562h4v1h-4zM608 558h7v1h-7zM608 554h4v1h-4zM608 551h4v1h-4zM608 547h4v1h-4zM608 543h4v1h-4zM608 539h7v1h-7zM608 535h4v1h-4zM608 531h4v1h-4zM608 527h4v1h-4zM608 523h4v1h-4zM608 520h7v1h-7zM608 516h4v1h-4zM608 512h4v1h-4zM608 508h4v1h-4zM608 504h4v1h-4zM608 500h7v1h-7zM608 496h4v1h-4zM608 492h4v1h-4zM608 489h4v1h-4zM608 485h4v1h-4zM608 481h7v1h-7zM608 477h4v1h-4zM608 473h4v1h-4zM608 469h4v1h-4zM608 465h4v1h-4zM608 461h7v1h-7zM608 458h4v1h-4zM608 454h4v1h-4zM608 450h4v1h-4zM608 446h4v1h-4zM608 442h7v1h-7zM608 438h4v1h-4zM608 434h4v1h-4zM608 430h4v1h-4zM608 427h4v1h-4zM608 423h7v1h-7zM608 419h4v1h-4zM608 415h4v1h-4zM608 411h4v1h-4zM608 407h4v1h-4zM608 403h7v1h-7zM608 399h4v1h-4zM608 396h4v1h-4zM608 392h4v1h-4zM608 388h4v1h-4zM608 384h7v1h-7zM608 380h4v1h-4zM608 376h4v1h-4zM608 372h4v1h-4zM608 368h4v1h-4zM608 365h7v1h-7zM608 361h4v1h-4zM608 357h4v1h-4zM608 353h4v1h-4zM608 349h4v1h-4zM608 345h7v1h-7zM608 341h7v1h-7zM608 582h7v1h-7z" fill="#000"/>
<path d="M669 402h8v1h-8zM672 399h1v7h-1z" fill="#0000f0"/>
</g>
<circle cx="673" cy="523" r="2.6" fill="none" stroke="#e60000" stroke-width="1.1"/>
<path d="M39.5 13.8 C36 11.6 30 11 25 12.8 C17 15.6 11.6 22.5 11.2 30 C11 35 12.4 39.5 14.6 43 C13.6 38 13.8 33 15.4 28 C18 20.5 23.5 15.6 30 14 C33.5 13.2 36.5 13.2 39.5 13.8 Z" fill="#2f97c0"/>
</svg>
<div class="t hd" style="left:399px;top:8px;">STATION NAME    YYYY DATE  DDD HHMMSS AXN PPS IGP</div>
<div class="t hd" style="left:399px;top:24.5px;">Idaho National  2012 Jun17 169 185133 417 100 -8G</div>
<div class="t st" style="left:594.5px;top:61.5px;">Num of Sources</div>
<div class="t sv" style="left:670.8px;top:61.5px;">4650</div>
<div class="t st" style="left:594.5px;top:75.5px;">Min Freq, kHz</div>
<div class="t sv" style="left:670.8px;top:75.5px;">4200</div>
<div class="t st" style="left:594.5px;top:89.5px;">Max Freq, kHz</div>
<div class="t sv" style="left:670.8px;top:89.5px;">4800</div>
<div class="t st" style="left:594.5px;top:103.5px;">Min Range, km</div>
<div class="t sv" style="left:670.8px;top:103.5px;">314</div>
<div class="t st" style="left:594.5px;top:117.5px;">Max Range, km</div>
<div class="t sv" style="left:670.8px;top:117.5px;">444</div>
<div class="t st" style="left:594.5px;top:131.5px;">Max Amp, dB</div>
<div class="t sv" style="left:670.8px;top:131.5px;">66</div>
<div class="t st" style="left:594.5px;top:145.5px;">Max SNR Amp, dB</div>
<div class="t sv" style="left:670.8px;top:145.5px;">22</div>
<div class="t st" style="left:594.5px;top:159.5px;">Min SNR Amp, dB</div>
<div class="t sv" style="left:670.8px;top:159.5px;">6</div>
<div class="t st" style="left:594.5px;top:173.5px;">Avg SNR Amp, dB</div>
<div class="t sv" style="left:670.8px;top:173.5px;">13</div>
<div class="t st" style="left:594.5px;top:187.5px;">Max RMS Err, deg</div>
<div class="t sv" style="left:670.8px;top:187.5px;">42.0</div>
<div class="t st" style="left:594.5px;top:201.5px;">Min RMS Err, deg</div>
<div class="t sv" style="left:670.8px;top:201.5px;">0.0</div>
<div class="t st" style="left:594.5px;top:215.5px;">Avg RMS Err, deg</div>
<div class="t sv" style="left:670.8px;top:215.5px;">8.1</div>
<div class="t st" style="left:594.5px;top:229.5px;">Doppler Res, Hz</div>
<div class="t sv" style="left:670.8px;top:229.5px;">0.0488</div>
<div class="t st" style="left:594.5px;top:243.5px;">CIT, sec</div>
<div class="t sv" style="left:670.8px;top:243.5px;">20.48</div>
<div class="t st" style="left:594.5px;top:257.5px;">Num of CITs</div>
<div class="t sv" style="left:670.8px;top:257.5px;">4</div>
<div class="t st" style="left:594.5px;top:271.5px;">Polarization</div>
<div class="t sv" style="left:670.8px;top:271.5px;">O,X-mode</div>
<div class="t st" style="left:594.5px;top:285.5px;">Center of Sources, deg:</div>
<div class="t st" style="left:594.5px;top:299.5px;">          Zenith</div>
<div class="t sv" style="left:670.8px;top:299.5px;">0.9</div>
<div class="t st" style="left:594.5px;top:313.5px;">          Azimuth</div>
<div class="t sv" style="left:670.8px;top:313.5px;">179</div>
<div class="t" style="left:720px;top:317px;font-family:'DejaVu Sans',sans-serif;font-size:8px;">&#8630;</div>
<div class="t cp" style="left:281.5px;top:46.5px;">North</div>
<div class="t cp" style="left:281.5px;top:567.5px;">South</div>
<div class="t cp" style="left:16px;top:307.5px;">West</div>
<div class="t cp" style="left:552px;top:307.5px;">East</div>
<div class="t it" style="left:12px;top:582.5px;">Compass coordinates</div>
<div class="t it" style="left:419px;top:582.5px;">Zenith: max 40<span style="margin-right:-4px">°</span>  step 5°</div>
<div class="t vs" style="left:654.3px;top:584.6px;letter-spacing:0.17px;">ShowSkymap v 1.0</div>
<div class="t vs" style="left:753.3px;top:584.6px;">SD v 4.2</div>
<div class="t cl" style="left:617.5px;top:336.5px;letter-spacing:0.6px;">3.1</div>
<div class="t cl" style="left:617.5px;top:360.5px;letter-spacing:0.6px;">2.5</div>
<div class="t cl" style="left:617.5px;top:379.5px;letter-spacing:0.6px;">2.0</div>
<div class="t cl" style="left:617.5px;top:398.5px;letter-spacing:0.6px;">1.5</div>
<div class="t cl" style="left:617.5px;top:418.5px;letter-spacing:0.6px;">1.0</div>
<div class="t cl" style="left:617.5px;top:437.5px;letter-spacing:0.6px;">0.5</div>
<div class="t cl" style="left:617.5px;top:456.5px;letter-spacing:0.6px;">0</div>
<div class="t cl" style="left:617.5px;top:476.5px;letter-spacing:0.6px;">-0.5</div>
<div class="t cl" style="left:617.5px;top:495.5px;letter-spacing:0.6px;">-1.0</div>
<div class="t cl" style="left:617.5px;top:515.5px;letter-spacing:0.6px;">-1.5</div>
<div class="t cl" style="left:617.5px;top:534.5px;letter-spacing:0.6px;">-2.0</div>
<div class="t cl" style="left:617.5px;top:553.5px;letter-spacing:0.6px;">-2.5</div>
<div class="t cl" style="left:617.5px;top:577.5px;letter-spacing:0.6px;">-3.1</div>
<div class="t cl" style="left:682.5px;top:398.5px;color:#0000f0;">Positive</div>
<div class="t cl" style="left:682.5px;top:518.5px;color:#e60000;letter-spacing:0.12px;">Negative</div>
<div class="t cl" style="left:654px;top:465px;font-size:9px;letter-spacing:-0.35px;transform:translate(-50%,-50%) rotate(-90deg);">Doppler, Hz</div>
<div class="t" style="left:48.3px;top:22px;font-family:'Liberation Serif',serif;font-size:11px;color:#2c1622;-webkit-text-stroke:0.25px #2c1622;">Lowell</div>
<div class="t" style="left:19.3px;top:35.3px;font-family:'Liberation Sans',sans-serif;font-size:10px;letter-spacing:0.57px;color:#8e2a5e;-webkit-text-stroke:0.4px #8e2a5e;">DIGISONDE</div>
</div></body></html>
